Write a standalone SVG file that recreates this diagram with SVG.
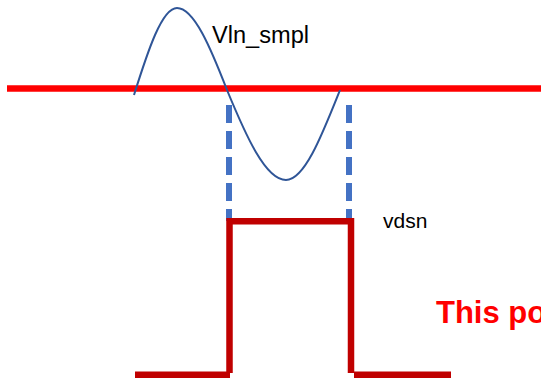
<svg xmlns="http://www.w3.org/2000/svg" width="541" height="379" viewBox="0 0 541 379">
<style>
.lbl{font-family:"Liberation Sans",Arial,sans-serif;fill:#000}
.pulse{stroke:#C00000;stroke-width:6.5;fill:none}
.dash{stroke:#4472C4;stroke-width:6;stroke-dasharray:18 8;fill:none}
</style>
<rect width="541" height="379" fill="#fff"/>
<g id="axis"><line x1="7" y1="88.5" x2="541" y2="88.5" stroke="#FF0000" stroke-width="6.5"/></g>
<g id="sine"><path d="M134,95 C148,50.4 162,8 177,8 C194,8 210.7,48 227,90 C246,136 265.6,180 286,180 C304.7,180 322.4,134 340,90" fill="none" stroke="#2F5597" stroke-width="2"/></g>
<g id="connectors">
<line class="dash" x1="229" y1="105" x2="229" y2="221"/>
<line class="dash" x1="349" y1="105" x2="349" y2="221"/>
</g>
<g id="pulse">
<line class="pulse" x1="135" y1="374.8" x2="230" y2="374.8"/>
<polyline class="pulse" points="229.5,373 229.5,221.3 351,221.3 351,373"/>
<line class="pulse" x1="354" y1="374.8" x2="451" y2="374.8"/>
</g>
<g id="label-vln"><text class="lbl" x="212" y="43" font-size="23" textLength="97" lengthAdjust="spacingAndGlyphs">Vln_smpl</text></g>
<g id="label-vdsn"><text class="lbl" x="383" y="228" font-size="21">vdsn</text></g>
<g id="label-note"><text x="436" y="323" font-family="'Liberation Sans',Arial,sans-serif" font-weight="bold" font-size="31" fill="#FF0000">This po</text></g>
</svg>
